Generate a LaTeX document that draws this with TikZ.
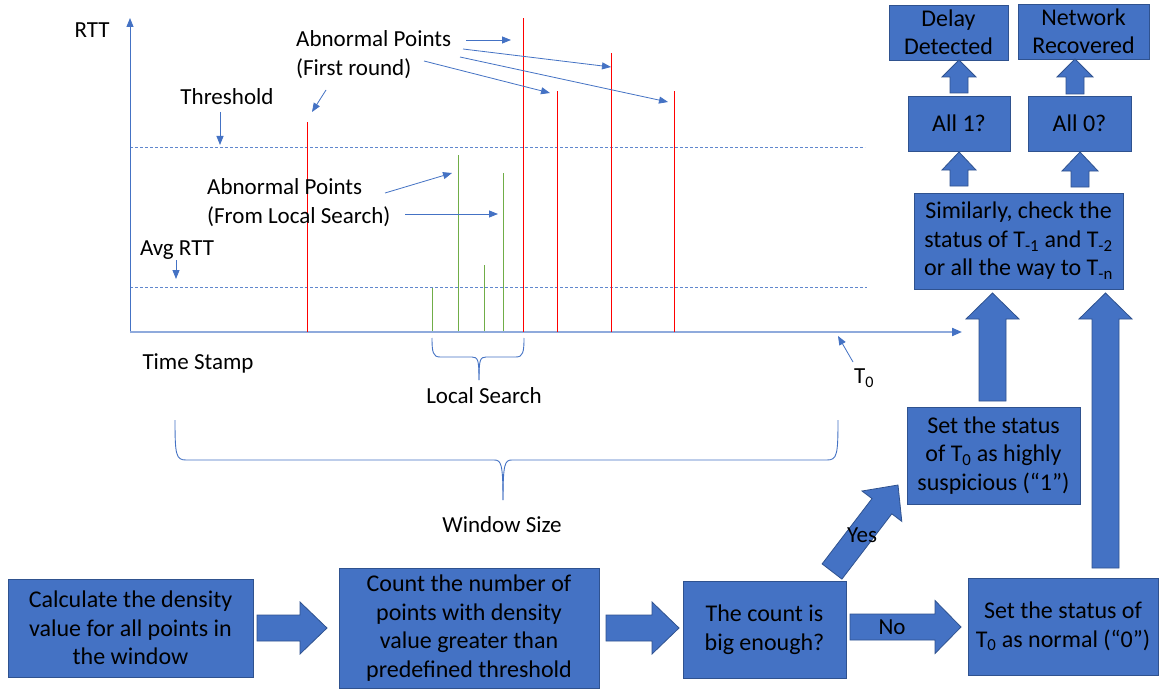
\documentclass[tikz,border=0pt]{standalone}
\usepackage{fontspec}
\setmainfont{Carlito}
\usetikzlibrary{arrows.meta}
\definecolor{boxblue}{HTML}{4472C4}
\definecolor{boxedge}{HTML}{2F528F}
\definecolor{axisblue}{HTML}{8FAADC}
\definecolor{linered}{HTML}{FF0000}
\definecolor{linegreen}{HTML}{70AD47}
\newcommand\rightblock[6]{%
  \filldraw[blockarrow] (#2,#1-#5) -- (#3,#1-#5) -- (#3,#1-#6) -- (#4,#1) -- (#3,#1+#6) -- (#3,#1+#5) -- (#2,#1+#5) -- cycle;}
\newcommand\upblock[6]{%
  \filldraw[blockarrow] (#1-#5,#2) -- (#1-#5,#3) -- (#1-#6,#3) -- (#1,#4) -- (#1+#6,#3) -- (#1+#5,#3) -- (#1+#5,#2) -- cycle;}
\begin{document}
\begin{tikzpicture}[x=1pt,y=-1pt,
  flowbox/.style={draw=boxedge, line width=0.8pt, fill=boxblue, text=black, align=center, inner sep=0pt, font=\fontsize{24}{28.5}\selectfont},
  blockarrow/.style={draw=boxedge, line width=0.8pt, fill=boxblue},
  lbl/.style={font=\fontsize{23}{29}\selectfont, inner sep=0pt, align=left, text=black},
  callout/.style={draw=boxblue, line width=0.8pt, -{Triangle[length=9pt,width=7pt]}},
  dashline/.style={draw=boxblue!85, line width=0.8pt, dash pattern=on 3pt off 2pt},
  redline/.style={draw=linered, line width=1pt},
  greenline/.style={draw=linegreen, line width=1pt},
  brace/.style={draw=boxblue, line width=0.9pt},
]
\useasboundingbox (0,0) rectangle (1159,690);
\fill[white] (0,0) rectangle (1159,690);

% ---------- chart ----------
\draw[dashline] (130,147) -- (865,147);
\draw[dashline] (130,287) -- (867,287);
\draw[draw=boxblue, line width=0.9pt, -{Triangle[length=9pt,width=7pt]}] (130,333) -- (130,18);
\draw[draw=axisblue, line width=2pt, -{Triangle[length=10pt,width=8pt,color=boxblue]}] (130,332) -- (962,332);

\draw[redline] (307,332) -- (307,122);
\draw[redline] (523,332) -- (523,18);
\draw[redline] (557,332) -- (557,91);
\draw[redline] (611,332) -- (611,53);
\draw[redline] (674,332) -- (674,91);
\draw[greenline] (432,331) -- (432,288);
\draw[greenline] (458,331) -- (458,155);
\draw[greenline] (484,331) -- (484,265);
\draw[greenline] (503,331) -- (503,173);

\node[lbl, anchor=center] (rtt) at (92,30) {RTT};
\node[lbl, anchor=center] (thr) at (227,97) {Threshold};
\node[lbl, anchor=center] (avg) at (177,250) {Avg RTT};
\node[lbl, anchor=west] (abn1) at (296,54.5) {Abnormal Points\\(First round)};
\node[lbl, anchor=west] (abn2) at (207,203) {Abnormal Points\\(From Local Search)};
\node[lbl, anchor=center] (ts) at (198,363) {Time Stamp};
\node[lbl, anchor=center] (ls) at (484,396) {Local Search};
\node[lbl, anchor=center] (ws) at (502,525) {Window Size};
\node[lbl, anchor=center] (t0) at (864,378) {T\textsubscript{0}};

\draw[callout] (220,112) -- (220,145);
\draw[callout] (176,260) -- (176,279);
\draw[callout] (326,90) -- (312,112);
\draw[callout] (466,40) -- (511,40);
\draw[callout] (463,49) -- (611,67);
\draw[callout] (460,57) -- (668,102);
\draw[callout] (424,61) -- (550,93);
\draw[callout] (385,193) -- (452,173);
\draw[callout] (405,214) -- (498,214);
\draw[callout] (853,362) -- (838,336);

% braces
\draw[brace] (432,338) .. controls (432,352) and (433,357) .. (440,357) -- (472,357) .. controls (478,357) and (479,360) .. (479,380);
\draw[brace] (524,338) .. controls (524,352) and (523,357) .. (516,357) -- (486,357) .. controls (480,357) and (479,360) .. (479,380);
\draw[brace] (175,420) .. controls (175,455) and (176,460) .. (186,460) -- (494,460) .. controls (501,460) and (503,463) .. (503,500);
\draw[brace] (838,420) .. controls (838,455) and (837,460) .. (827,460) -- (512,460) .. controls (505,460) and (503,463) .. (503,500);

% ---------- flow ----------
\node[flowbox, minimum width=245, minimum height=98] (calc) at (130.5,628) {Calculate the density\\value for all points in\\the window};
\node[flowbox, minimum width=260, minimum height=120] (count) at (469,628) {Count the number of\\points with density\\value greater than\\predefined threshold};
\node[flowbox, minimum width=163, minimum height=97] (big) at (764.5,629.5) {The count is\\big enough?};
\node[flowbox, minimum width=190, minimum height=97] (normal) at (1063,626.5) {Set the status of\\T\textsubscript{0} as normal (“0”)};
\node[flowbox, minimum width=173, minimum height=97] (highly) at (993.5,455.5) {Set the status\\of T\textsubscript{0} as highly\\suspicious (“1”)};
\node[flowbox, minimum width=209, minimum height=96] (similar) at (1018.5,241) {Similarly, check the\\status of T\textsubscript{-1} and T\textsubscript{-2}\\or all the way to T\textsubscript{-n}};
\node[flowbox, minimum width=102, minimum height=55] (all1) at (959,123.5) {All 1?};
\node[flowbox, minimum width=103, minimum height=55] (all0) at (1079.5,123.5) {All 0?};
\node[flowbox, minimum width=119, minimum height=55] (delay) at (948.5,32.5) {Delay\\Detected};
\node[flowbox, minimum width=131, minimum height=55] (netrec) at (1083.5,31.5) {Network\\Recovered};

\rightblock{628}{257}{300}{327}{13}{26}
\rightblock{628}{606}{652}{679}{13}{26}
\rightblock{627}{850}{935}{961}{13}{26.5}
\upblock{959}{93}{77}{60}{9}{17}
\upblock{1075}{94}{77}{59}{9}{18}
\upblock{959}{186}{170}{152}{9}{17}
\upblock{1080}{187}{171}{152}{9}{18}
\upblock{992.5}{401}{319}{293}{13.5}{26.5}
\upblock{1105.5}{568}{319}{293}{13.5}{26.5}
\filldraw[blockarrow] (822.1,563.9) -- (872.0,498.6) -- (862.0,491.0) -- (898,485) -- (901.8,521.4) -- (891.8,513.8) -- (841.9,579.1) -- cycle;

\node[lbl, anchor=center] (yes) at (862,535) {Yes};
\node[lbl, anchor=center] (no) at (892,627) {No};
\end{tikzpicture}
\end{document}
